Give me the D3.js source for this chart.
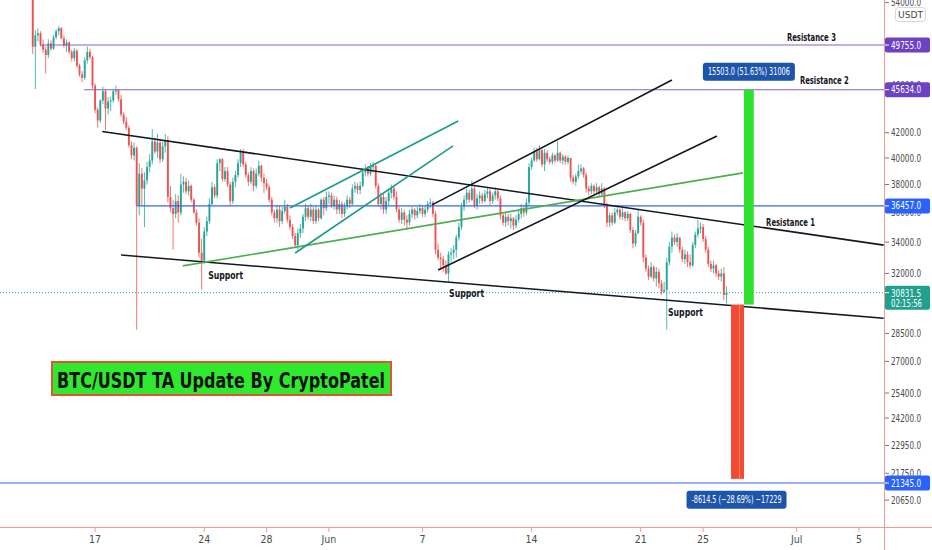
<!DOCTYPE html>
<html>
<head>
<meta charset="utf-8">
<script src="https://cdn.jsdelivr.net/npm/d3@7"></script>
<style>
html, body { margin: 0; padding: 0; background: #fff; }
svg { display: block; }
text { font-family: "Liberation Sans Narrow", "DejaVu Sans Condensed", "Liberation Sans", sans-serif; }
</style>
</head>
<body>
<svg id="chart"></svg>
<script>
'use strict';

// BTC/USDT 4h candles, 13 May 2021 00:00 -> 26 Jun 2021 12:00 (one row = one day)
var firstOpen = 55000;
var highs = [
  55500, 51200, 51400, 51100, 50300, 49600,
  50300, 50200, 50700, 51300, 51600, 51500,
  50700, 50300, 50100, 49300, 49500, 49400,
  48000, 47300, 48600, 49600, 49400, 48700,
  46200, 44100, 44800, 45900, 45700, 45000,
  45000, 45700, 46000, 45700, 45200, 43700,
  43300, 42600, 41300, 41200, 40900, 39600,
  39200, 38900, 39700, 40300, 42300, 41600,
  41900, 41500, 41300, 41900, 41700, 37900,
  36900, 37300, 37200, 38800, 38600, 38500,
  38300, 38000, 37000, 36200, 35600, 34200,
  35000, 35700, 37000, 38200, 38000, 39900,
  40000, 40000, 39300, 39300, 38200, 38500,
  39000, 39900, 40700, 40700, 39700, 38900,
  39300, 39200, 39200, 39800, 39500, 38800,
  38400, 38000, 37100, 36200, 36500, 36500,
  36400, 36900, 36600, 35800, 35200, 34600,
  34900, 35200, 35900, 36600, 36500, 36600,
  36400, 36500, 36300, 37000, 37100, 37500,
  37500, 37400, 37200, 37100, 36900, 36800,
  36700, 37200, 37100, 38000, 38200, 38100,
  38200, 39200, 39500, 39400, 39600, 39700,
  39600, 38100, 37400, 37300, 37100, 37700,
  38000, 37900, 37500, 36400, 36300, 36200,
  35800, 36200, 36400, 36300, 36400, 36600,
  36500, 36500, 36800, 37000, 36800, 36100,
  33900, 33300, 33100, 32800, 33400, 33600,
  33800, 34500, 35300, 36700, 37200, 37700,
  37600, 38300, 37900, 37300, 37500, 37400,
  37600, 37800, 37700, 37400, 37800, 37600,
  37200, 36000, 36000, 35900, 35900, 35700,
  35800, 36200, 36600, 36500, 37000, 39600,
  40000, 40800, 40800, 41000, 40700, 40700,
  40600, 40100, 40400, 40300, 41300, 40500,
  40300, 40200, 40200, 40000, 38700, 38800,
  39500, 39500, 39300, 38900, 37900, 38100,
  38000, 38100, 37900, 38100, 37800, 36700,
  36000, 36000, 36300, 36500, 36300, 36300,
  36100, 36100, 36000, 35000, 34800, 36200,
  35800, 35500, 33200, 32500, 32700, 32500,
  32400, 32300, 31600, 31500, 33000, 34000,
  34700, 34500, 34600, 34300, 33700, 33500,
  33400, 33200, 34000, 34700, 35500, 35300,
  35200, 34400, 33700, 32800, 32800, 32600,
  32200, 32300, 32400, 31200
];
var lows = [
  48900, 45700, 50100, 49600, 49000, 47100,
  48500, 49200, 49300, 50300, 50700, 50300,
  49500, 49100, 48900, 48200, 48200, 47600,
  46800, 46300, 46500, 48000, 48400, 45700,
  43600, 42400, 42800, 44400, 42200, 43500,
  43800, 44500, 45200, 44600, 43300, 42700,
  42200, 40800, 39900, 39800, 28700, 35800,
  36500, 35000, 38000, 38900, 39500, 40300,
  40000, 39600, 39700, 40400, 36700, 36000,
  33500, 35600, 35300, 35800, 37400, 37300,
  37200, 36700, 35900, 35100, 33000, 31000,
  32600, 34400, 35200, 36500, 37000, 37000,
  39000, 38200, 38200, 37800, 36500, 36600,
  37800, 38500, 39300, 39300, 38500, 37900,
  38000, 37500, 37700, 38600, 38200, 37400,
  37600, 36700, 35800, 35300, 35300, 35000,
  35200, 35900, 35300, 34800, 34200, 33600,
  33500, 34300, 34600, 35400, 35500, 35400,
  35200, 35200, 35400, 35500, 35800, 36100,
  36600, 36300, 36200, 35900, 35900, 35600,
  35700, 36200, 36300, 36500, 37400, 37300,
  37300, 37800, 38600, 38600, 38600, 38900,
  37700, 36400, 36200, 35900, 35900, 36500,
  37000, 36900, 36000, 35300, 35200, 35100,
  34800, 35100, 35600, 35500, 35600, 35900,
  35700, 35700, 36000, 36300, 35700, 33200,
  32800, 32200, 32100, 31900, 31500, 32700,
  32900, 33000, 34100, 34800, 36100, 36600,
  36700, 36800, 36300, 36200, 36600, 36600,
  36700, 37000, 36500, 36600, 36900, 36800,
  35500, 35100, 35000, 35100, 34900, 34800,
  34900, 35300, 35600, 35700, 35800, 36500,
  39100, 39700, 39700, 39800, 39300, 39000,
  39700, 39500, 39500, 39600, 39700, 39600,
  39500, 39500, 39500, 38200, 38000, 37900,
  38400, 38800, 38500, 37400, 37200, 37300,
  37300, 37300, 37100, 37100, 36300, 35000,
  35000, 35100, 35200, 35800, 35500, 35500,
  35400, 35400, 34600, 33600, 33700, 34500,
  35100, 32700, 32100, 31600, 31700, 31500,
  31200, 31100, 30700, 30800, 28700, 32500,
  33300, 33800, 33700, 33300, 32700, 32600,
  32400, 32300, 32400, 33600, 34300, 34600,
  34000, 33300, 32400, 32100, 32000, 31800,
  31600, 31500, 30400, 30200
];
var closes = [
  49600, 50700, 50900, 49800, 49300, 48800,
  49900, 49400, 50500, 51100, 51400, 50400,
  49700, 50000, 49100, 48500, 49200, 47800,
  47000, 46700, 48300, 49100, 48600, 46000,
  43900, 43000, 44700, 45500, 44000, 44600,
  44700, 45500, 45600, 44800, 43500, 42900,
  42400, 41000, 40200, 40800, 36500, 38800,
  37700, 38300, 39300, 39800, 41300, 40500,
  41200, 39900, 40900, 41400, 37100, 36300,
  35900, 36800, 36000, 38000, 38200, 37500,
  37900, 36900, 36000, 35300, 33300, 32800,
  34700, 35400, 36600, 37800, 37200, 39600,
  39900, 38400, 39000, 38000, 36800, 38200,
  38700, 39600, 40400, 39500, 38700, 38200,
  39000, 37900, 38800, 39400, 38500, 38100,
  37800, 36900, 36000, 35600, 36200, 35400,
  36100, 36400, 35500, 35000, 34400, 33800,
  34600, 34900, 35700, 36300, 35700, 36200,
  35400, 36200, 35600, 36900, 36300, 37100,
  37200, 36500, 36900, 36200, 36600, 35900,
  36400, 36900, 36600, 37700, 37900, 37600,
  37900, 38900, 39200, 38800, 39300, 39400,
  37900, 36600, 37100, 36200, 36800, 37400,
  37700, 37100, 36200, 35500, 36000, 35500,
  35300, 35900, 36200, 35800, 36100, 36300,
  35900, 36200, 36600, 36700, 35900, 33500,
  33000, 32900, 32500, 32000, 33200, 33300,
  33500, 34300, 35000, 36400, 36900, 37400,
  36900, 37700, 36500, 37000, 37200, 36800,
  37300, 37500, 36800, 37200, 37500, 37000,
  35800, 35300, 35700, 35400, 35600, 35100,
  35500, 35900, 36300, 36000, 36700, 39300,
  39800, 40500, 39900, 40600, 39500, 40400,
  39900, 39700, 40200, 39800, 40400, 39800,
  40100, 39700, 40000, 38500, 38200, 38600,
  39000, 39200, 38700, 37700, 37500, 37900,
  37500, 37800, 37300, 37700, 36500, 35300,
  35800, 35300, 36000, 36200, 35700, 36000,
  35600, 35900, 34800, 33900, 34600, 35700,
  35300, 33000, 32300, 31800, 32400, 31700,
  32100, 31400, 30900, 31000, 32700, 33700,
  34300, 34000, 34300, 33500, 32900, 33200,
  32700, 32500, 33800, 34500, 34900, 35000,
  34200, 33500, 32600, 32300, 32500, 32000,
  31800, 32000, 30700, 30831.5
];
var lastPrice = 30831.5;
var countdown = '02:15:56';

// horizontal levels drawn on the chart
var levelPrices = [49755.0, 45634.0, 36457.0, 21345.0];
var levelStarts = ['2021-05-13T11:00', '2021-05-16T07:00', '2021-05-19T16:00', '2021-05-01T00:00'];

// trend lines [time, price] -> [time, price]
var trendLines = [
  [['2021-05-17T11:00', 42100], ['2021-07-06T14:00', 33800]],
  [['2021-05-18T16:00', 33160], ['2021-07-06T14:00', 29350]],
  [['2021-05-22T15:00', 32470], ['2021-06-27T13:30', 38860]],
  [['2021-05-29T12:00', 36310], ['2021-06-09T07:00', 42960]],
  [['2021-05-29T20:00', 33290], ['2021-06-08T23:00', 40940]],
  [['2021-06-07T14:40', 36530], ['2021-06-23T00:00', 46500]],
  [['2021-06-08T00:00', 32210], ['2021-06-25T21:20', 41740]]
];
var trendColors = ['#131722', '#131722', '#4caf50', '#1a9c88', '#1a9c88', '#131722', '#131722'];

// price range tools
var gainRange = [30131.0, 45634.0];
var gainTimes = ['2021-06-27T15:00', '2021-06-28T06:00'];
var gainText = '15503.0 (51.63%) 31006';
var lossRange = [30131.0, 21516.5];
var lossTimes = ['2021-06-26T19:00', '2021-06-27T15:00'];
var lossText = '-8614.5 (\u221228.69%) \u221217229';

// text notes anchored at [time, price]
var noteTexts = ['Support', 'Support', 'Support', 'Resistance 1', 'Resistance 2', 'Resistance 3'];
var noteAnchors = [
  ['2021-05-24T06:00', 31680],
  ['2021-06-08T17:00', 30600],
  ['2021-06-22T18:00', 29480],
  ['2021-06-29T01:00', 35070],
  ['2021-07-01T05:00', 46150],
  ['2021-06-30T09:00', 50150]
];

var priceTicks = [54000, 46000, 42000, 40000, 38000, 36000, 34000, 32000,
  28500, 27000, 25400, 24200, 22950, 21750, 20650];
var dateTicks = ['2021-05-17', '2021-05-24', '2021-05-28', '2021-06-01', '2021-06-07',
  '2021-06-14', '2021-06-21', '2021-06-25', '2021-07-01', '2021-07-05'];

var titleText = 'BTC/USDT TA Update By CryptoPatel';

// ---------------------------------------------------------------
var width = 932;
var height = 550;
var plotRight = 884;
var plotBottom = 527;
var axisColor = '#f19a94';

function utc(s) {
  if (s.length === 10) s = s + 'T00:00';
  return new Date(s + ':00Z');
}

var x = d3.scaleUtc()
  .domain([utc('2021-05-17'), utc('2021-07-05')])
  .range([95.1, 859]);

var y = d3.scaleLog()
  .domain([49755, 21345])
  .range([45, 483]);

var svg = d3.select('#chart')
  .attr('width', width)
  .attr('height', height);

svg.append('rect')
  .attr('width', width)
  .attr('height', height)
  .attr('fill', '#fff');

svg.append('clipPath')
  .attr('id', 'plotClip')
  .append('rect')
  .attr('width', plotRight)
  .attr('height', plotBottom);

var plot = svg.append('g').attr('clip-path', 'url(#plotClip)');

// candles
var t0 = Date.UTC(2021, 4, 13);
var candles = closes.map(function (c, i) {
  return {
    t: new Date(t0 + i * 4 * 3600 * 1000),
    o: i === 0 ? firstOpen : closes[i - 1],
    h: highs[i],
    l: lows[i],
    c: c
  };
});

var candle = plot.append('g').selectAll('g')
  .data(candles)
  .enter()
  .append('g')
  .attr('fill', function (d) { return d.c >= d.o ? '#26a69a' : '#ef5350'; })
  .attr('stroke', function (d) { return d.c >= d.o ? '#26a69a' : '#ef5350'; });

candle.append('line')
  .attr('x1', function (d) { return x(d.t); })
  .attr('x2', function (d) { return x(d.t); })
  .attr('y1', function (d) { return y(d.h); })
  .attr('y2', function (d) { return y(d.l); })
  .attr('stroke-width', 0.8);

candle.append('rect')
  .attr('stroke', 'none')
  .attr('x', function (d) { return x(d.t) - 0.95; })
  .attr('width', 1.9)
  .attr('y', function (d) { return y(Math.max(d.o, d.c)); })
  .attr('height', function (d) { return Math.max(0.8, Math.abs(y(d.o) - y(d.c))); });

// current price line
plot.append('line')
  .attr('x1', 0)
  .attr('x2', plotRight)
  .attr('y1', y(lastPrice))
  .attr('y2', y(lastPrice))
  .attr('stroke', '#26a69a')
  .attr('stroke-width', 1)
  .attr('stroke-dasharray', '1,2');

// horizontal levels
var levelColors = ['#8064c8', '#8064c8', '#3565f0', '#3565f0'];
plot.selectAll('.level')
  .data(levelPrices)
  .enter()
  .append('line')
  .attr('class', 'level')
  .attr('x1', function (d, i) { return x(utc(levelStarts[i])); })
  .attr('x2', plotRight)
  .attr('y1', function (d) { return y(d); })
  .attr('y2', function (d) { return y(d); })
  .attr('stroke', function (d, i) { return levelColors[i]; })
  .attr('stroke-width', 1.2);

// trend lines
plot.selectAll('.trend')
  .data(trendLines)
  .enter()
  .append('line')
  .attr('class', 'trend')
  .attr('x1', function (d) { return x(utc(d[0][0])); })
  .attr('y1', function (d) { return y(d[0][1]); })
  .attr('x2', function (d) { return x(utc(d[1][0])); })
  .attr('y2', function (d) { return y(d[1][1]); })
  .attr('stroke', function (d, i) { return trendColors[i]; })
  .attr('stroke-width', 1.6);

// price range bars
plot.append('rect')
  .attr('x', x(utc(lossTimes[0])))
  .attr('width', x(utc(lossTimes[1])) - x(utc(lossTimes[0])))
  .attr('y', y(lossRange[0]))
  .attr('height', y(lossRange[1]) - y(lossRange[0]))
  .attr('fill', '#f44a35');
plot.append('line')
  .attr('x1', x(utc(lossTimes[1])) - 4.5)
  .attr('x2', x(utc(lossTimes[1])) - 4.5)
  .attr('y1', y(lossRange[0]))
  .attr('y2', y(lossRange[1]))
  .attr('stroke', '#f7904e')
  .attr('stroke-width', 1);

plot.append('rect')
  .attr('x', x(utc(gainTimes[0])))
  .attr('width', x(utc(gainTimes[1])) - x(utc(gainTimes[0])))
  .attr('y', y(gainRange[1]))
  .attr('height', y(gainRange[0]) - y(gainRange[1]))
  .attr('fill', '#30e030');

function rangeLabel(cx, top, txt, w, tw) {
  var g = plot.append('g');
  g.append('rect')
    .attr('x', cx - w / 2)
    .attr('y', top)
    .attr('width', w)
    .attr('height', 18)
    .attr('rx', 3)
    .attr('fill', '#1e55ac');
  g.append('text')
    .attr('x', cx - tw / 2)
    .attr('y', top + 12.5)
    .attr('font-size', 10)
    .attr('textLength', tw)
    .attr('lengthAdjust', 'spacingAndGlyphs')
    .attr('fill', '#fff')
    .text(txt);
}
rangeLabel((x(utc(gainTimes[0])) + x(utc(gainTimes[1]))) / 2, y(gainRange[1]) - 27, gainText, 92, 82);
rangeLabel((x(utc(lossTimes[0])) + x(utc(lossTimes[1]))) / 2 - 1, y(lossRange[1]) + 12, lossText, 100, 90);

// notes
var noteWidths = [35, 35, 35, 49, 49, 49];
plot.selectAll('.note')
  .data(noteTexts)
  .enter()
  .append('text')
  .attr('class', 'note')
  .attr('x', function (d, i) { return x(utc(noteAnchors[i][0])); })
  .attr('y', function (d, i) { return y(noteAnchors[i][1]); })
  .attr('font-size', 11)
  .attr('font-weight', 'bold')
  .attr('textLength', function (d, i) { return noteWidths[i]; })
  .attr('lengthAdjust', 'spacingAndGlyphs')
  .attr('fill', '#131722')
  .text(function (d) { return d; });

// title box
var titleG = svg.append('g');
titleG.append('rect')
  .attr('x', 52)
  .attr('y', 362)
  .attr('width', 339)
  .attr('height', 33)
  .attr('fill', '#2fe92f')
  .attr('stroke', '#e0553a')
  .attr('stroke-width', 2);
titleG.append('text')
  .attr('x', 57)
  .attr('y', 388)
  .attr('font-size', 21)
  .attr('font-weight', 'bold')
  .style('font-family', '"DejaVu Sans Condensed", "DejaVu Sans", sans-serif')
  .attr('textLength', 328)
  .attr('lengthAdjust', 'spacingAndGlyphs')
  .attr('fill', '#111')
  .text(titleText);

// axes frame
svg.append('line')
  .attr('x1', plotRight + 0.5).attr('x2', plotRight + 0.5)
  .attr('y1', 0).attr('y2', height)
  .attr('stroke', axisColor);
svg.append('line')
  .attr('x1', 0).attr('x2', width)
  .attr('y1', plotBottom + 0.5).attr('y2', plotBottom + 0.5)
  .attr('stroke', axisColor);

// price axis
var priceFmt = d3.format('.1f');
var yTick = svg.append('g').selectAll('g')
  .data(priceTicks)
  .enter()
  .append('g')
  .attr('transform', function (d) { return 'translate(0,' + y(d) + ')'; });
yTick.append('line')
  .attr('x1', plotRight + 1).attr('x2', plotRight + 5)
  .attr('stroke', '#777');
yTick.append('text')
  .attr('x', 891)
  .attr('dy', '0.35em')
  .attr('font-size', 10.5)
  .attr('textLength', 30)
  .attr('lengthAdjust', 'spacingAndGlyphs')
  .attr('fill', '#4a4a4a')
  .text(function (d) { return priceFmt(d); });

// date axis
var dateFmt = function (d) {
  if (d.getUTCDate() === 1) return d3.utcFormat('%b')(d);
  return d3.utcFormat('%-d')(d);
};
var xTick = svg.append('g').selectAll('g')
  .data(dateTicks.map(utc))
  .enter()
  .append('g')
  .attr('transform', function (d) { return 'translate(' + x(d) + ',0)'; });
xTick.append('line')
  .attr('y1', plotBottom + 1).attr('y2', plotBottom + 5)
  .attr('stroke', axisColor);
xTick.append('text')
  .attr('y', 543)
  .attr('text-anchor', 'middle')
  .attr('font-size', 10.5)
  .attr('fill', '#4a4a4a')
  .text(dateFmt);

// price labels on the axis
function axisLabel(price, fill, lines) {
  var h = lines.length > 1 ? 24 : 15;
  var yc = y(price);
  var top = lines.length > 1 ? yc - 7 : yc - h / 2;
  svg.append('rect')
    .attr('x', plotRight + 1)
    .attr('y', top)
    .attr('width', 45)
    .attr('height', h)
    .attr('rx', 2)
    .attr('fill', fill);
  svg.append('line')
    .attr('x1', plotRight + 1).attr('x2', plotRight + 5)
    .attr('y1', yc).attr('y2', yc)
    .attr('stroke', '#fff');
  lines.forEach(function (t, i) {
    svg.append('text')
      .attr('x', 891)
      .attr('y', top + 11 + i * 10.5)
      .attr('font-size', 10.5)
      .attr('textLength', t.length === 8 ? 31 : 30)
      .attr('lengthAdjust', 'spacingAndGlyphs')
      .attr('fill', '#fff')
      .text(t);
  });
}
var labelFills = ['#6c41c4', '#6c41c4', '#2962ff', '#2962ff'];
levelPrices.forEach(function (p, i) {
  axisLabel(p, labelFills[i], [priceFmt(p)]);
});
axisLabel(lastPrice, '#22a08f', [priceFmt(lastPrice), countdown]);

// currency badge
svg.append('rect')
  .attr('x', 895.5).attr('y', 7.5)
  .attr('width', 30).attr('height', 14)
  .attr('rx', 3)
  .attr('fill', '#fff')
  .attr('stroke', '#d6d6d6');
svg.append('text')
  .attr('x', 898).attr('y', 18)
  .attr('font-size', 9.5)
  .attr('textLength', 25)
  .attr('lengthAdjust', 'spacingAndGlyphs')
  .attr('fill', '#4a4a4a')
  .text('USDT');
</script>
</body>
</html>
